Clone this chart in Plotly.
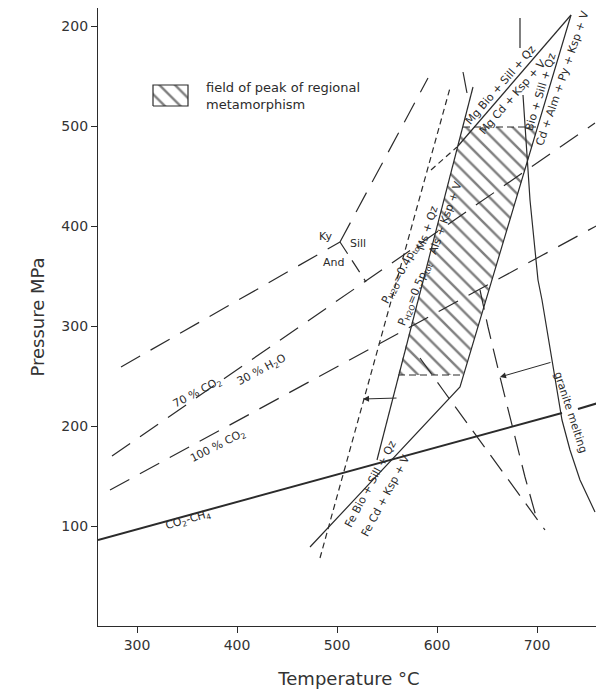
import plotly.graph_objects as go

# ---------------- data (Temperature °C, Pressure MPa) ----------------
x_ticks = [300, 400, 500, 600, 700]
y_ticks = [100, 200, 300, 400, 500, 600]
y_tick_text = ["100", "200", "300", "400", "500", "200"]

co2ch4_T_a = [261, 725]
co2ch4_P_a = [86, 213]
co2ch4_T_b = [741, 761]
co2ch4_P_b = [217, 223]

ky_and_T = [284, 503]
ky_and_P = [259, 384]
ky_sill_T = [503, 591]
ky_sill_P = [384, 548]
and_sill_T = [503, 529]
and_sill_P = [384, 344]

co2_70_T = [275, 758]
co2_70_P = [170, 503]
co2_100_T = [273, 761]
co2_100_P = [136, 401]

ph2o04_T = [483, 613]
ph2o04_P = [68, 538]
ph2o04_branch_T = [594, 620]
ph2o04_branch_P = [456, 479]

ph2o05_T = [636, 555, 540]
ph2o05_P = [539, 226, 166]

mgbio_T = [734, 621]
mgbio_P = [611, 480]

bio_T = [734, 626, 623, 473]
bio_P = [611, 251, 239, 79]

short_seg_T = [626, 630]
short_seg_P = [554, 533]

granite_T_a = [683, 683]
granite_P_a = [608, 578]
granite_T_b = [686, 690, 693, 697, 701, 705, 710, 715, 720, 725, 733, 743, 758]
granite_P_b = [531, 476, 426, 386, 346, 326, 296, 264, 236, 206, 176, 146, 114]

path1_T = [643, 651, 663, 688, 700]
path1_P = [336, 299, 249, 149, 106]
path2_T = [583, 606, 708]
path2_P = [268, 236, 96]

field_T = [626, 701, 626, 561, 571, 626]
field_P = [499, 499, 251, 251, 289, 499]
field_top_T = [626, 701]
field_top_P = [499, 499]
field_bot_T = [561, 626]
field_bot_P = [251, 251]

legend_box_T = [316, 351, 351, 316, 316]
legend_box_P = [520, 520, 541, 541, 520]

INK = "#2b2b2b"
FONT = "DejaVu Sans"

fig = go.Figure()


def line(T, P, dash="solid", width=1.2):
    fig.add_trace(go.Scatter(x=T, y=P, mode="lines", showlegend=False,
                             hoverinfo="skip",
                             line=dict(color=INK, width=width, dash=dash)))


# hatched field
fig.add_trace(go.Scatter(x=field_T, y=field_P, mode="lines", fill="toself",
                         fillcolor="rgba(0,0,0,0)", showlegend=False,
                         hoverinfo="skip",
                         fillpattern=dict(shape="\\", fgcolor="black", bgcolor="white",
                                          size=11, solidity=0.22),
                         line=dict(width=0)))
fig.add_trace(go.Scatter(x=legend_box_T, y=legend_box_P, mode="lines", fill="toself",
                         fillcolor="rgba(0,0,0,0)", showlegend=False,
                         hoverinfo="skip",
                         fillpattern=dict(shape="\\", fgcolor="black", bgcolor="white",
                                          size=11, solidity=0.22),
                         line=dict(color=INK, width=1.2)))

line(field_top_T, field_top_P, dash="7px,4px")
line(field_bot_T, field_bot_P, dash="7px,4px")

line(co2ch4_T_a, co2ch4_P_a, width=2)
line(co2ch4_T_b, co2ch4_P_b, width=2)

longdash = "22px,12px"
line(ky_and_T, ky_and_P, dash=longdash)
line(ky_sill_T, ky_sill_P, dash=longdash)
line(and_sill_T, and_sill_P, dash="14px,8px")
line(co2_70_T, co2_70_P, dash=longdash)
line(co2_100_T, co2_100_P, dash=longdash)
line(path1_T, path1_P, dash="20px,10px")
line(path2_T, path2_P, dash="20px,10px")

line(ph2o04_T, ph2o04_P, dash="6px,4px")
line(ph2o04_branch_T, ph2o04_branch_P, dash="6px,4px")
line(ph2o05_T, ph2o05_P)
line(mgbio_T, mgbio_P)
line(bio_T, bio_P)
line(short_seg_T, short_seg_P)
line(granite_T_a, granite_P_a)
line(granite_T_b, granite_P_b)

# arrows
arrows = [
    (663, 249, 715, 264),
    (526, 227, 561, 228),
]
for hx, hy, tx, ty in arrows:
    fig.add_annotation(x=hx, y=hy, ax=tx, ay=ty, xref="x", yref="y",
                       axref="x", ayref="y", showarrow=True, arrowhead=2,
                       arrowsize=1.2, arrowwidth=1, arrowcolor=INK, text="")

# labels
def label(text, T, P, angle=0, size=11):
    fig.add_annotation(x=T, y=P, text=text, showarrow=False, textangle=angle,
                       font=dict(family=FONT, size=size, color=INK))

label("Ky", 488, 390)
label("Sill", 521, 383)
label("And", 496, 364)
label("70 % CO<sub>2</sub>", 360, 233, -28)
label("30 % H<sub>2</sub>O", 425, 256, -28)
label("100 % CO<sub>2</sub>", 381, 180, -27)
label("CO<sub>2</sub>-CH<sub>4</sub>", 351, 106, -16)
label("granite melting", 734, 214, 72)
label("P<sub>H2O</sub>=0.4p<sub>tot</sub>", 564, 353, -62)
label("P<sub>H2O</sub>=0.5p<sub>tot</sub>", 578, 332, -67)
label("Ms + Qz", 590, 398, -72)
label("Als + Ksp + V", 608, 408, -70)
label("Mg Bio + Sill + Qz", 663, 541, -49)
label("Mg Cd + Ksp + V", 675, 529, -49)
label("Bio + Sill + Qz", 703, 534, -73)
label("Cd + Alm + Py + Ksp + V", 725, 548, -71)
label("Fe Bio + Sill + Qz", 533, 142, -62)
label("Fe Cd + Ksp + V", 548, 130, -62)

fig.add_annotation(x=367, y=530, text="field of peak of regional<br>metamorphism",
                   showarrow=False, xanchor="left", align="left",
                   font=dict(family=FONT, size=13, color=INK))

fig.update_layout(
    width=604, height=698,
    margin=dict(l=90, r=12, t=0, b=80, autoexpand=False),
    paper_bgcolor="white", plot_bgcolor="white",
    font=dict(family=FONT, size=14, color="#333"),
    xaxis=dict(range=[261, 763], tickvals=x_ticks, ticks="outside", ticklen=6,
               tickcolor=INK, showline=True, linecolor=INK, linewidth=1.3,
               showgrid=False, zeroline=False, automargin=False,
               title=dict(text="Temperature °C", font=dict(size=18, color="#333"),
                          standoff=20)),
    yaxis=dict(range=[0, 618], tickvals=y_ticks, ticktext=y_tick_text,
               ticks="outside", ticklen=6, tickcolor=INK, showline=True,
               linecolor=INK, linewidth=1.3, showgrid=False, zeroline=False,
               automargin=False,
               title=dict(text="Pressure MPa", font=dict(size=18, color="#333"),
                          standoff=12)),
)

fig.write_html("out.html")
